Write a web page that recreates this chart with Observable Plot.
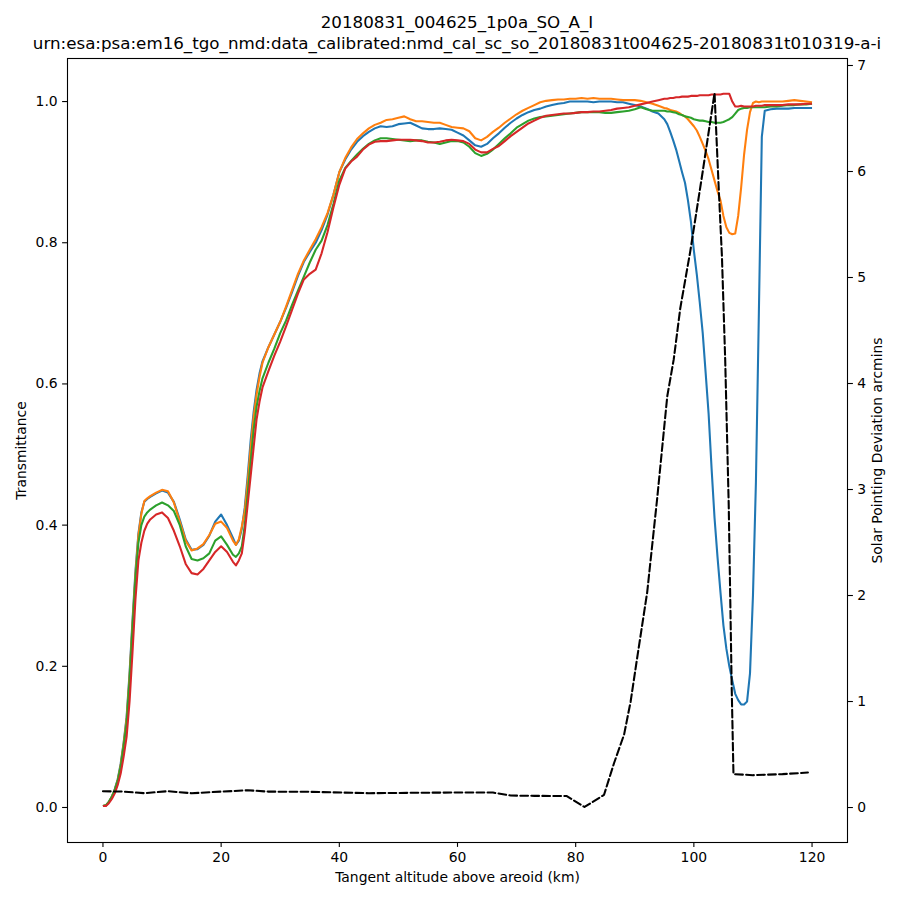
<!DOCTYPE html>
<html><head><meta charset="utf-8">
<script src="https://cdn.jsdelivr.net/npm/d3@7"></script>
<script src="https://cdn.jsdelivr.net/npm/@observablehq/plot@0.6"></script>
<style>
body{margin:0;background:#fff;font-family:"DejaVu Sans",sans-serif;}
#title{height:54px;box-sizing:border-box;padding-top:12px;padding-left:14px;text-align:center;font-size:16.7px;line-height:21px;color:#000;white-space:nowrap;}
</style></head><body>
<div id="title"><div>20180831_004625_1p0a_SO_A_I</div><div>urn:esa:psa:em16_tgo_nmd:data_calibrated:nmd_cal_sc_so_20180831t004625-20180831t010319-a-i</div></div>
<div id="chart"></div>
<script>
const altitude = [0,0.5,1,1.5,2,2.5,3,3.5,4,4.5,5,5.5,6,6.5,7,7.5,8,
9,10,11,12,13,14,15,16,17,18,19,20,21,22,
22.5,23,23.5,24,24.5,25,25.5,26,26.5,27,
28,29,30,31,32,33,34,35,36,37,38,39,40,
41,42,43,44,45,46,47,48,49,50,51,52,53,54,55,56,57,58,59,60,61,62,63,64,65,66,67,68,69,70,71,72,73,74,75,76,77,78,79,80,81,82,83,84,85,86,87,88,89,90,91,92,93,94,
95,95.5,96,96.5,97,97.5,98,98.5,99,99.5,100,100.5,101,101.5,102,102.5,103,103.5,104,104.5,105,105.5,106,106.5,107,107.5,108,108.5,109,109.5,110,110.5,111,111.5,112,
113,114,115,116,117,118,119,120];

const blue = [0.002,0.003,0.008,0.015,0.026,0.04,0.062,0.092,0.128,0.19,0.265,0.335,0.388,0.418,0.433,0.437,0.44,
0.445,0.449,0.446,0.433,0.408,0.38,0.365,0.366,0.372,0.385,0.405,0.415,0.4,0.382,
0.372,0.378,0.395,0.425,0.47,0.52,0.56,0.592,0.615,0.632,
0.652,0.67,0.688,0.708,0.73,0.753,0.773,0.787,0.8,0.818,0.84,0.868,0.9,
0.918,0.932,0.943,0.951,0.957,0.962,0.965,0.964,0.965,0.968,0.969,0.97,0.966,0.962,0.961,0.961,0.962,0.961,0.96,0.956,0.952,0.945,0.938,0.936,0.94,0.948,0.955,0.963,0.97,0.976,0.981,0.985,0.988,0.99,0.993,0.995,0.997,0.998,1.0,1.0,1.0,1.0,0.999,1.0,1.0,1.0,0.999,0.999,0.997,0.995,0.993,0.99,0.986,0.983,
0.975,0.968,0.957,0.945,0.932,0.916,0.9,0.885,0.86,0.83,0.789,0.755,0.715,0.672,0.615,0.557,0.48,0.41,0.355,0.305,0.258,0.225,0.2,0.18,0.161,0.152,0.146,0.146,0.15,0.19,0.3,0.46,0.7,0.95,0.987,
0.989,0.99,0.99,0.99,0.991,0.991,0.991,0.991];

const orange = [0.002,0.003,0.008,0.015,0.025,0.039,0.06,0.09,0.125,0.185,0.26,0.33,0.385,0.416,0.434,0.438,0.441,
0.446,0.45,0.448,0.432,0.405,0.378,0.364,0.367,0.373,0.386,0.402,0.405,0.396,0.378,
0.372,0.38,0.398,0.42,0.462,0.51,0.553,0.585,0.61,0.63,
0.652,0.67,0.688,0.71,0.733,0.756,0.775,0.79,0.805,0.822,0.842,0.868,0.9,
0.92,0.935,0.947,0.955,0.962,0.967,0.97,0.974,0.975,0.977,0.979,0.975,0.972,0.972,0.971,0.97,0.97,0.967,0.964,0.963,0.962,0.958,0.948,0.945,0.95,0.957,0.963,0.97,0.976,0.982,0.987,0.991,0.995,0.999,1.001,1.002,1.003,1.003,1.004,1.004,1.005,1.004,1.005,1.004,1.004,1.004,1.003,1.002,1.002,1.002,1.001,0.999,0.997,0.994,
0.991,0.99,0.988,0.987,0.986,0.984,0.981,0.979,0.975,0.97,0.965,0.959,0.95,0.94,0.93,0.918,0.903,0.888,0.873,0.86,0.838,0.822,0.814,0.812,0.813,0.838,0.878,0.925,0.96,0.985,0.998,1.0,0.999,1.0,1.0,
1.0,1.0,1.0,1.001,1.002,1.001,1.0,0.999];

const green = [0.002,0.003,0.008,0.015,0.025,0.038,0.058,0.087,0.12,0.18,0.255,0.325,0.375,0.4,0.412,0.418,0.422,
0.428,0.432,0.428,0.42,0.4,0.37,0.352,0.35,0.353,0.36,0.378,0.384,0.372,0.358,
0.355,0.36,0.37,0.4,0.445,0.49,0.535,0.568,0.59,0.608,
0.63,0.65,0.672,0.69,0.712,0.732,0.752,0.772,0.79,0.803,0.825,0.855,0.888,
0.906,0.916,0.925,0.933,0.94,0.945,0.948,0.948,0.947,0.946,0.945,0.944,0.945,0.945,0.943,0.942,0.94,0.942,0.944,0.944,0.942,0.936,0.927,0.923,0.926,0.932,0.94,0.948,0.955,0.963,0.968,0.973,0.976,0.978,0.979,0.98,0.981,0.982,0.983,0.984,0.985,0.985,0.985,0.985,0.984,0.984,0.985,0.986,0.987,0.989,0.992,0.989,0.987,0.987,
0.987,0.986,0.986,0.985,0.984,0.982,0.981,0.979,0.978,0.977,0.975,0.974,0.973,0.973,0.972,0.971,0.971,0.97,0.97,0.97,0.971,0.973,0.975,0.978,0.983,0.988,0.99,0.991,0.991,0.992,0.992,0.992,0.992,0.992,0.992,
0.993,0.993,0.994,0.995,0.995,0.996,0.996,0.997];

const red = [0.002,0.002,0.006,0.012,0.02,0.032,0.048,0.072,0.1,0.15,0.22,0.295,0.35,0.375,0.392,0.402,0.408,
0.415,0.418,0.41,0.392,0.37,0.345,0.332,0.33,0.338,0.35,0.362,0.37,0.362,0.348,
0.343,0.35,0.36,0.39,0.43,0.47,0.51,0.55,0.575,0.595,
0.618,0.64,0.66,0.682,0.705,0.728,0.748,0.756,0.762,0.785,0.815,0.85,0.882,
0.905,0.915,0.922,0.932,0.939,0.943,0.944,0.944,0.945,0.946,0.946,0.946,0.945,0.944,0.942,0.942,0.943,0.945,0.946,0.945,0.944,0.94,0.932,0.928,0.928,0.933,0.937,0.944,0.951,0.957,0.963,0.969,0.973,0.977,0.98,0.981,0.982,0.983,0.983,0.984,0.985,0.985,0.986,0.986,0.987,0.988,0.99,0.991,0.992,0.994,0.996,0.998,1.0,1.002,
1.004,1.004,1.005,1.005,1.006,1.006,1.007,1.007,1.007,1.008,1.008,1.008,1.009,1.009,1.009,1.009,1.01,1.01,1.01,1.01,1.011,1.011,1.011,1.0,0.993,0.993,0.994,0.993,0.993,0.993,0.993,0.994,0.994,0.994,0.995,
0.995,0.995,0.995,0.996,0.996,0.996,0.997,0.997];

const devAltitude = [0,3.5,7,11,15,20,24.5,28,35,45,55,62,66,69,73,78.5,81.5,84.8,86.5,88.2,89.3,90.4,92.1,93.8,95.5,96.6,97.7,99.4,101.5,103.5,104.2,104.75,105.3,105.9,106.4,106.7,110,115,119.3];
const deviation = [0.154,0.15,0.135,0.154,0.135,0.15,0.163,0.15,0.148,0.135,0.14,0.142,0.141,0.113,0.11,0.108,0.005,0.12,0.42,0.69,1.0,1.41,2.03,2.92,3.88,4.23,4.71,5.25,6.0,6.74,5.85,5.2,4.23,2.85,1.14,0.315,0.305,0.315,0.33];

const xTicks = [0,20,40,60,80,100,120];
const yTicks = [0,0.2,0.4,0.6,0.8,1.0];
const rightTicks = [0,1,2,3,4,5,6,7];

const xDomain = [-6, 126];
const yLo = -0.0496, yHi = 1.061, rLo = -0.330, rHi = 7.066;
const toLeft = v => yLo + (v - rLo) * (yHi - yLo) / (rHi - rLo);
const fromLeft = y => rLo + (y - yLo) * (rHi - rLo) / (yHi - yLo);

const series = [
  {values: blue, color: "#1f77b4"},
  {values: orange, color: "#ff7f0e"},
  {values: green, color: "#2ca02c"},
  {values: red, color: "#d62728"}
];

const lw = 2.08;
const chart = Plot.plot({
  width: 900,
  height: 846,
  marginTop: 4,
  marginBottom: 58,
  marginLeft: 67,
  marginRight: 53,
  style: {fontFamily: "DejaVu Sans", fontSize: "13.9px", color: "#000", background: "#fff"},
  x: {domain: xDomain},
  y: {domain: [yLo, yHi]},
  marks: [
    ...series.map(s => Plot.line(s.values, {x: altitude, y: s.values, stroke: s.color, strokeWidth: lw, strokeLinejoin: "round", strokeLinecap: "butt"})),
    Plot.line(deviation, {x: devAltitude, y: deviation.map(toLeft), stroke: "#000", strokeWidth: lw, strokeDasharray: "7.7,3.3"}),
    Plot.frame({stroke: "#000", strokeWidth: 1.1}),
    Plot.axisX(xTicks, {tickSize: 4.9, tickPadding: 4.9, label: null, tickFormat: d => String(d), strokeWidth: 1.1}),
    Plot.axisY(yTicks, {anchor: "left", tickSize: 4.9, tickPadding: 4.9, label: null, tickFormat: d => d.toFixed(1), strokeWidth: 1.1}),
    Plot.axisY(rightTicks.map(toLeft), {anchor: "right", tickSize: 4.9, tickPadding: 4.9, label: null, tickFormat: d => String(Math.round(fromLeft(d))), strokeWidth: 1.1}),
    Plot.text(["Tangent altitude above areoid (km)"], {text: d => d, frameAnchor: "bottom", dy: 35, textAnchor: "middle", lineAnchor: "middle", fontSize: 13.9, fill: "#000"}),
    Plot.text(["Transmittance"], {text: d => d, frameAnchor: "left", dx: -46, rotate: -90, textAnchor: "middle", lineAnchor: "middle", fontSize: 13.9, fill: "#000"}),
    Plot.text(["Solar Pointing Deviation arcmins"], {text: d => d, frameAnchor: "right", dx: 30, rotate: -90, textAnchor: "middle", lineAnchor: "middle", fontSize: 13.9, fill: "#000"})
  ]
});
document.getElementById("chart").appendChild(chart);
</script></body></html>
